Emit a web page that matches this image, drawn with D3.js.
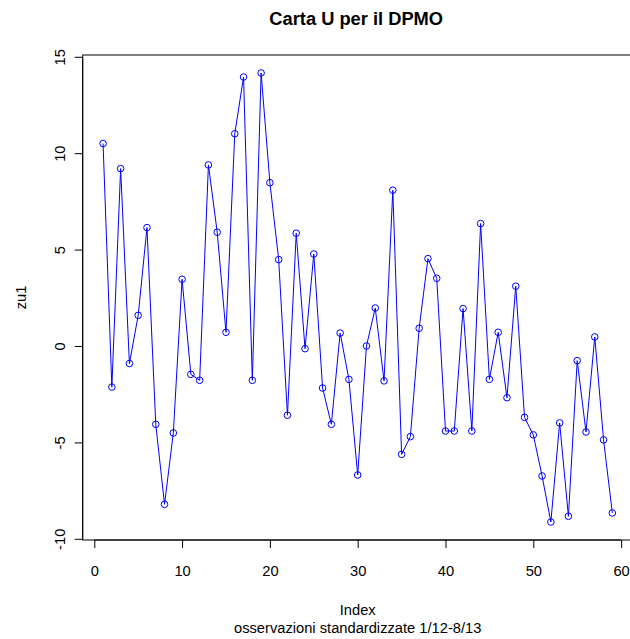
<!DOCTYPE html>
<html><head><meta charset="utf-8">
<script src="https://cdn.jsdelivr.net/npm/d3@7"></script>
<style>body{margin:0;background:#fff}svg{display:block}text{font-family:"Liberation Sans",Arial,sans-serif;fill:#000}</style>
</head><body>
<script>
const index = d3.range(1, 60);
const zu1 = [10.50,-2.13,9.20,-0.91,1.59,6.14,-4.06,-8.21,-4.51,3.46,
  -1.47,-1.78,9.39,5.90,0.71,11.01,13.95,-1.78,14.16,8.47,
  4.48,-3.59,5.85,-0.14,4.77,-2.18,-4.06,0.67,-1.73,-6.69,
  0.00,1.97,-1.81,8.08,-5.62,-4.70,0.92,4.53,3.51,-4.41,
  -4.41,1.94,-4.41,6.35,-1.73,0.71,-2.68,3.10,-3.70,-4.61,
  -6.74,-9.13,-3.99,-8.83,-0.76,-4.46,0.47,-4.87,-8.66];
const xTicks = [0,10,20,30,40,50,60];
const yTicks = [-10,-5,0,5,10,15];
const title = "Carta U per il DPMO";
const xLabel = "Index";
const subLabel = "osservazioni standardizzate 1/12-8/13";
const yLabel = "zu1";

const W = 630, H = 639;
const L = 82.7, R = 632.7, T = 55, B = 540;
const FS = 14.7;
const svg = d3.select("body").append("svg").attr("width", W).attr("height", H);

const xExt = d3.extent(index), xr = xExt[1]-xExt[0];
const x = d3.scaleLinear().domain([xExt[0]-0.04*xr, xExt[1]+0.04*xr]).range([L, R]);
const yExt = d3.extent(zu1), yr = yExt[1]-yExt[0];
const y = d3.scaleLinear().domain([yExt[0]-0.04*yr, yExt[1]+0.04*yr]).range([B, T]);

svg.append("rect").attr("x", L).attr("y", T).attr("width", R-L).attr("height", B-T)
  .attr("fill","none").attr("stroke","#000").attr("stroke-width",1);

const fmt = d => String(d);

// x axis
const xa = svg.append("g").attr("transform", `translate(0,${B})`)
  .call(d3.axisBottom(x).tickValues(xTicks).tickSize(8).tickPadding(18).tickFormat(fmt));
xa.select(".domain").attr("d", `M${x(xTicks[0])},0H${x(xTicks[xTicks.length-1])}`).attr("stroke","#000");
xa.selectAll("text").attr("font-size", FS).attr("font-family", "Liberation Sans, Arial, sans-serif").attr("fill","#000");
xa.selectAll("line").attr("stroke","#000");

// y axis
const ya = svg.append("g").attr("transform", `translate(${L},0)`)
  .call(d3.axisLeft(y).tickValues(yTicks).tickSize(8).tickFormat(fmt));
ya.select(".domain").attr("d", `M0,${y(yTicks[0])}V${y(yTicks[yTicks.length-1])}`).attr("stroke","#000");
ya.selectAll("line").attr("stroke","#000");
ya.selectAll("text").attr("font-size", FS).attr("font-family", "Liberation Sans, Arial, sans-serif").attr("fill","#000")
  .attr("x", null).attr("dy", null).attr("text-anchor","middle")
  .attr("transform", `translate(${64.5-L},0) rotate(-90)`);

// line and points
const pts = index.map((d,i)=>[d, zu1[i]]);
svg.append("path").datum(pts)
  .attr("d", d3.line().x(d=>x(d[0])).y(d=>y(d[1])))
  .attr("fill","none").attr("stroke","#0000ff").attr("stroke-width",1);
svg.append("g").selectAll("circle").data(pts).join("circle")
  .attr("cx", d=>x(d[0])).attr("cy", d=>y(d[1])).attr("r", 3.3)
  .attr("fill","none").attr("stroke","#0000ff").attr("stroke-width",1);

// texts
const cx = (L+R)/2;
svg.append("text").attr("x", cx-1.5).attr("y", 25).attr("text-anchor","middle")
  .attr("font-size", 18.3).attr("font-weight","bold").text(title);
svg.append("text").attr("x", cx).attr("y", 614.5).attr("text-anchor","middle")
  .attr("font-size", FS).text(xLabel);
svg.append("text").attr("x", cx).attr("y", 632.5).attr("text-anchor","middle")
  .attr("font-size", FS).text(subLabel);
svg.append("text").attr("transform", `translate(25.5,${(T+B)/2}) rotate(-90)`).attr("text-anchor","middle")
  .attr("font-size", FS).text(yLabel);
</script>
</body></html>
